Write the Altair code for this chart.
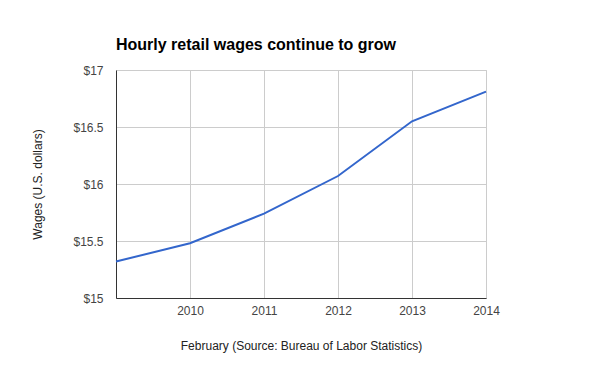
import altair as alt
import pandas as pd

years = [2009, 2010, 2011, 2012, 2013, 2014]
wages = [15.32, 15.48, 15.74, 16.07, 16.55, 16.81]
x_ticks = [2010, 2011, 2012, 2013, 2014]
y_ticks = [15, 15.5, 16, 16.5, 17]

df = pd.DataFrame({"year": years, "wage": wages})

chart = (
    alt.Chart(df)
    .mark_line(color="#3366CC", strokeWidth=2)
    .encode(
        x=alt.X(
            "year:Q",
            scale=alt.Scale(domain=[2009, 2014], nice=False, zero=False),
            axis=alt.Axis(
                values=x_ticks,
                format="d",
                title="February (Source: Bureau of Labor Statistics)",
                ticks=False,
                tickSize=0,
                labelPadding=7,
                labelFlush=False,
                labelOverlap=False,
                domainColor="#333333",
                gridColor="#cccccc",
                titleX=185,
                titleY=47,
                titleBaseline="middle",
                titleAlign="center",
            ),
        ),
        y=alt.Y(
            "wage:Q",
            scale=alt.Scale(domain=[15, 17], nice=False, zero=False),
            axis=alt.Axis(
                values=y_ticks,
                labelExpr="'$' + datum.value",
                title="Wages (U.S. dollars)",
                ticks=False,
                tickSize=0,
                labelPadding=13,
                labelFlush=False,
                labelOverlap=False,
                domainColor="#333333",
                gridColor="#cccccc",
                titleX=-79,
                titleY=114,
                titleAngle=270,
                titleBaseline="middle",
                titleAlign="center",
            ),
        ),
    )
    .properties(
        width=370,
        height=228,
        title=alt.TitleParams(
            "Hourly retail wages continue to grow",
            anchor="start",
            frame="group",
            fontSize=16,
            fontWeight="bold",
            font="Liberation Sans",
            color="#000000",
            offset=11,
        ),
        autosize=alt.AutoSizeParams(type="none"),
        padding={"left": 116, "top": 70, "right": 114, "bottom": 73},
    )
    .configure_view(stroke="#cccccc", strokeWidth=1)
    .configure_axis(
        labelFont="Liberation Sans",
        titleFont="Liberation Sans",
        labelFontSize=12,
        titleFontSize=12,
        labelColor="#444444",
        titleColor="#222222",
        titleFontWeight="normal",
        gridWidth=1,
        domainWidth=1,
    )
)

chart.save("out.html", embed_options={"renderer": "svg", "actions": False})
